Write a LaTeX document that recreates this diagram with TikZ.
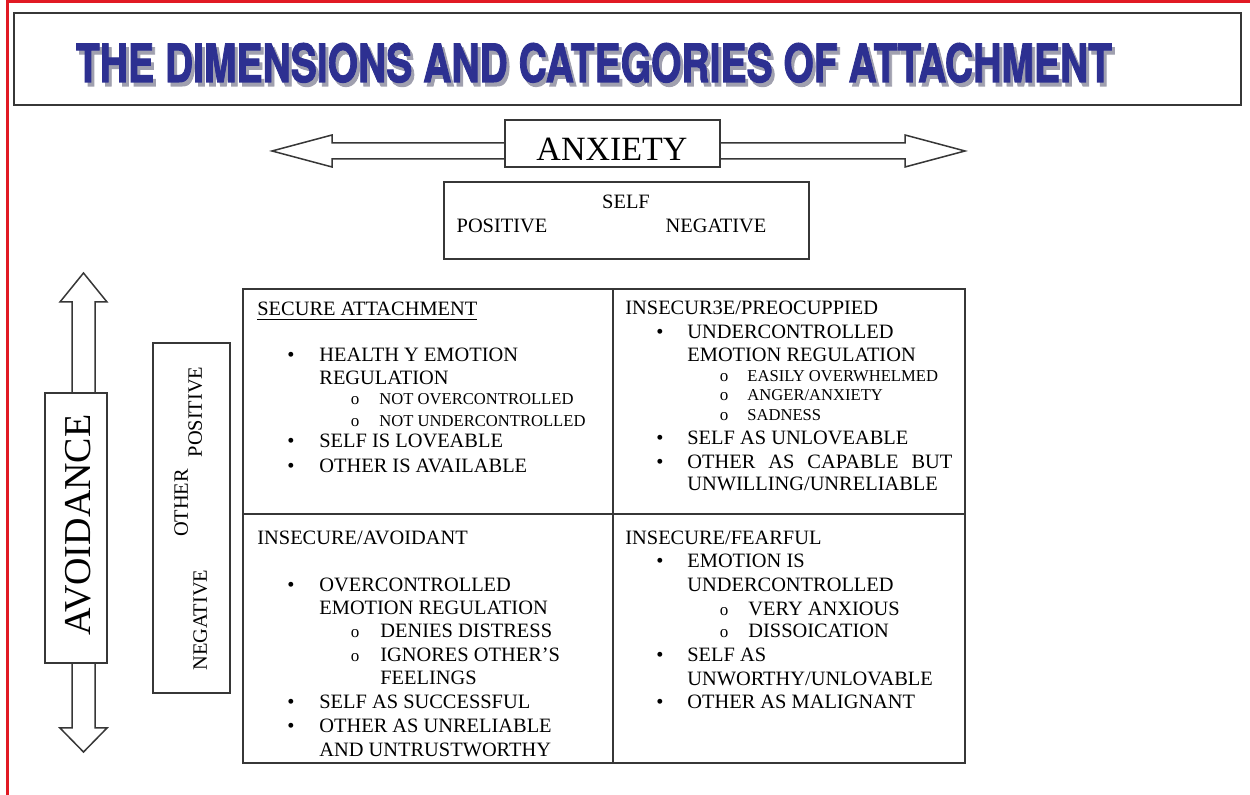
\documentclass[tikz,border=0pt]{standalone}
\usepackage{fontspec}
\setmainfont{Liberation Serif}
\newfontfamily\titlefont[BoldFeatures={FakeBold=2}]{TeX Gyre Heros}
\usepackage{graphicx}
\usetikzlibrary{positioning}
\definecolor{titleblue}{RGB}{45,48,145}
\definecolor{shadowgray}{RGB}{160,160,175}
\definecolor{framered}{RGB}{225,25,35}
\definecolor{linegray}{RGB}{55,55,55}
\newcommand\titletext{\resizebox{518pt}{19.5pt}{\titlefont\bfseries THE DIMENSIONS AND CATEGORIES OF ATTACHMENT}}

\begin{document}
\begin{tikzpicture}[x=0.5pt,y=-0.5pt,
  line/.style={draw=linegray,line width=0.75pt},
  boxed/.style={draw=linegray,line width=0.75pt,fill=white},
  ln/.style={anchor=base west,inner sep=0pt,font=\fontsize{10.2}{12}\selectfont},
  sm/.style={anchor=base west,inner sep=0pt,font=\fontsize{8.3}{10}\selectfont},
  bul/.style={anchor=base,inner sep=0pt,font=\fontsize{10.2}{12}\selectfont},
  sbul/.style={anchor=base,inner sep=0pt,font=\fontsize{8.5}{10}\selectfont},
  lab/.style={anchor=base,inner sep=0pt,font=\fontsize{10.2}{12}\selectfont},
  side/.style={inner sep=0pt,text depth=0pt,rotate=90,font=\fontsize{10.2}{12}\selectfont}]
\useasboundingbox[fill=white] (0,0) rectangle (1250,795);
\draw[framered,line width=1.5pt] (7,795) -- (7,2) -- (1250,2);

\draw[line] (14,13) rectangle (1241,105);
\node[anchor=base,inner sep=0pt] (title) at (594,82)
  {\rlap{\hspace{1.5pt}\raisebox{-2pt}{\textcolor{shadowgray}{\titletext}}}\textcolor{titleblue}{\titletext}};

\draw[boxed] (272,151) -- (332,135) -- (332,143) -- (905,143) -- (905,135) -- (965,151)
  -- (905,167) -- (905,159) -- (332,159) -- (332,167) -- cycle;
\draw[boxed] (505,120) rectangle (720,167);
\node[inner sep=0pt,text depth=0pt,font=\fontsize{17}{20}\selectfont] (anxiety) at (612,149) {ANXIETY};

\draw[line] (444,182) rectangle (809,259);
\node[lab] (self) at (626,209) {SELF};
\node[lab] (selfpos) at (502,233) {POSITIVE};
\node[lab] (selfneg) at (716,233) {NEGATIVE};

\draw[boxed] (83.5,273) -- (107,302) -- (95,302) -- (95,728) -- (107,728) -- (83.5,752)
  -- (60,728) -- (72,728) -- (72,302) -- (60,302) -- cycle;
\draw[boxed] (45,393) rectangle (107,663);
\node[side,font=\fontsize{19}{22}\selectfont] (avoidance) at (78,525) {AVOIDANCE};

\draw[line] (153,343) rectangle (230,693);
\node[side] (otherpos) at (195,412) {POSITIVE};
\node[side] (other) at (181,503) {OTHER};
\node[side] (otherneg) at (200,620) {NEGATIVE};

\draw[line] (243,289) rectangle (965,763);
\draw[line] (613,289) -- (613,763);
\draw[line] (243,514) -- (965,514);

\node[ln] (secure) at (257,316) {\underline{SECURE ATTACHMENT}};
\node[bul] at (291,362) {•};
\node[ln] (sa1) at (319,362) {HEALTH Y EMOTION};
\node[ln] (sa2) at (319,385) {REGULATION};
\node[sbul] at (355,405) {o};
\node[sm] (sa3) at (379,405) {NOT OVERCONTROLLED};
\node[sbul] at (355,427) {o};
\node[sm] (sa4) at (379,427) {NOT UNDERCONTROLLED};
\node[bul] at (291,448) {•};
\node[ln] (sa5) at (319,448) {SELF IS LOVEABLE};
\node[bul] at (291,473) {•};
\node[ln] (sa6) at (319,473) {OTHER IS AVAILABLE};

\node[ln] (preoc) at (625,315) {INSECUR3E/PREOCUPPIED};
\node[bul] at (660,339) {•};
\node[ln] (pr1) at (687,339) {UNDERCONTROLLED};
\node[ln] (pr2) at (687,362) {EMOTION REGULATION};
\node[sbul] at (724,382) {o};
\node[sm] (pr3) at (747,382) {EASILY OVERWHELMED};
\node[sbul] at (724,401) {o};
\node[sm] (pr4) at (747,401) {ANGER/ANXIETY};
\node[sbul] at (724,421) {o};
\node[sm] (pr5) at (747,421) {SADNESS};
\node[bul] at (660,445) {•};
\node[ln] (pr6) at (687,445) {SELF AS UNLOVEABLE};
\node[bul] at (660,469) {•};
\node[ln] (pr7) at (687,469) {\makebox[132.5pt][s]{OTHER AS CAPABLE BUT}};
\node[ln] (pr8) at (687,491) {UNWILLING/UNRELIABLE};

\node[ln] (avoid) at (257,545) {INSECURE/AVOIDANT};
\node[bul] at (291,592) {•};
\node[ln] (av1) at (319,592) {OVERCONTROLLED};
\node[ln] (av2) at (319,615) {EMOTION REGULATION};
\node[sbul] at (355,638) {o};
\node[ln] (av3) at (380,638) {DENIES DISTRESS};
\node[sbul] at (355,662) {o};
\node[ln] (av4) at (380,662) {IGNORES OTHER’S};
\node[ln] (av5) at (380,685) {FEELINGS};
\node[bul] at (291,709) {•};
\node[ln] (av6) at (319,709) {SELF AS SUCCESSFUL};
\node[bul] at (291,733) {•};
\node[ln] (av7) at (319,733) {OTHER AS UNRELIABLE};
\node[ln] (av8) at (319,757) {AND UNTRUSTWORTHY};

\node[ln] (fear) at (625,545) {INSECURE/FEARFUL};
\node[bul] at (660,568) {•};
\node[ln] (fe1) at (687,568) {EMOTION IS};
\node[ln] (fe2) at (687,592) {UNDERCONTROLLED};
\node[sbul] at (724,616) {o};
\node[ln] (fe3) at (748,616) {VERY ANXIOUS};
\node[sbul] at (724,638) {o};
\node[ln] (fe4) at (748,638) {DISSOICATION};
\node[bul] at (660,662) {•};
\node[ln] (fe5) at (687,662) {SELF AS};
\node[ln] (fe6) at (687,686) {UNWORTHY/UNLOVABLE};
\node[bul] at (660,709) {•};
\node[ln] (fe7) at (687,709) {OTHER AS MALIGNANT};
\end{tikzpicture}
\end{document}
